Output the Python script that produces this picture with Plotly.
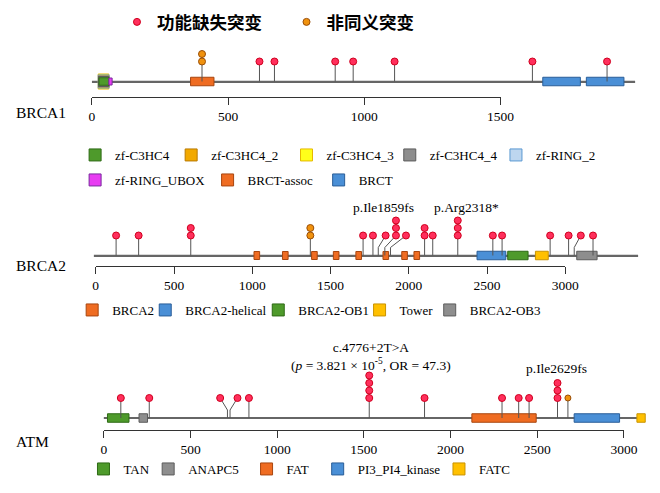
import plotly.graph_objects as go

W, H = 660, 493

# ---------------- data ----------------
MUT_TYPES = ["lof", "mis"]
MUT_TYPE_LABELS = ["功能缺失突变", "非同义突变"]

# BRCA1
BRCA1_backbone = [0, 1994]
BRCA1_ticks = [0, 500, 1000, 1500]
BRCA1_domains = ["zf-C3HC4", "zf-C3HC4_2", "zf-C3HC4_3", "zf-C3HC4_4",
                 "zf-RING_2", "zf-RING_UBOX", "BRCT-assoc", "BRCT"]
BRCA1_domain_starts = [[26], [24], [23], [24], [23], [62], [362], [1655, 1815]]
BRCA1_domain_ends = [[63], [62], [62], [62], [63], [74], [448], [1793, 1953]]
BRCA1_mut_pos = [404, 615, 670, 893, 959, 1111, 1617, 1891]
BRCA1_mut_head = [404, 615, 670, 893, 959, 1111, 1617, 1891]
BRCA1_mut_count = [2, 1, 1, 1, 1, 1, 1, 1]
BRCA1_mut_type = ["mis", "lof", "lof", "lof", "lof", "lof", "lof", "lof"]
BRCA1_labels = []
BRCA1_label_x = []

# BRCA2
BRCA2_backbone = [-12, 3465]
BRCA2_ticks = [0, 500, 1000, 1500, 2000, 2500, 3000]
BRCA2_domains = ["BRCA2", "BRCA2-helical", "BRCA2-OB1", "Tower", "BRCA2-OB3"]
BRCA2_domain_starts = [[1011, 1193, 1379, 1518, 1662, 1835, 1955, 2033], [2436], [2632], [2809], [3073]]
BRCA2_domain_ends = [[1047, 1229, 1415, 1554, 1698, 1871, 1991, 2069], [2620], [2762], [2891], [3203]]
BRCA2_mut_pos = [130, 274, 607, 1371, 1708, 1771, 1805, 1847, 1883, 2101, 2153, 2313,
                 2537, 2596, 2903, 3021, 3057, 3177]
BRCA2_mut_head = [130, 274, 607, 1371, 1708, 1771, 1852, 1918, 1982, 2101, 2153, 2313,
                  2537, 2596, 2903, 3021, 3099, 3177]
BRCA2_mut_count = [1, 1, 2, 2, 1, 1, 1, 3, 1, 2, 1, 3, 1, 1, 1, 1, 1, 1]
BRCA2_mut_type = ["lof", "lof", "lof", "mis", "lof", "lof", "lof", "lof", "lof", "lof",
                  "lof", "lof", "lof", "lof", "lof", "lof", "lof", "lof"]
BRCA2_labels = ["p.Ile1859fs", "p.Arg2318*"]
BRCA2_label_x = [1841, 2370]

# ATM
ATM_backbone = [0, 3080]
ATM_ticks = [0, 500, 1000, 1500, 2000, 2500, 3000]
ATM_domains = ["TAN", "ANAPC5", "FAT", "PI3_PI4_kinase", "FATC"]
ATM_domain_starts = [[21], [203], [2123], [2713], [3075]]
ATM_domain_ends = [[145], [252], [2494], [2975], [3123]]
ATM_mut_pos = [98, 262, 713, 728, 837, 1531, 1850, 2297, 2393, 2453, 2617, 2677]
ATM_mut_head = [98, 262, 671, 771, 837, 1531, 1850, 2297, 2393, 2453, 2617, 2677]
ATM_mut_count = [1, 1, 1, 1, 1, 4, 1, 1, 1, 1, 3, 1]
ATM_mut_type = ["lof", "lof", "lof", "lof", "lof", "lof", "lof", "lof", "lof", "lof", "lof", "mis"]
ATM_labels = ["c.4776+2T>A<br>(<i>p</i> = 3.821 × 10<sup>-5</sup>, OR = 47.3)", "p.Ile2629fs"]
ATM_label_x = [1540, 2614]

# ---------------- style ----------------
SERIF = "Liberation Serif, Times New Roman, serif"
CJK = "Noto Sans CJK SC, sans-serif"
HEAD_FILL = {"lof": "#FF2F5C", "mis": "#F0920E"}
HEAD_LINE = {"lof": "#D0001E", "mis": "#9A4E08"}
STICK = "#555555"
L1, STEP, ELBOW = 20, 7.5, 8

GREEN = ("#4E9A2B", "#2E6A15")
GOLD = ("#F2A900", "#B97A00")
YELLOW = ("#FFFF1A", "#E6B800")
GRAY = ("#8E8E8E", "#5C5C5C")
LBLUE = ("#BDD6EF", "#5A98D2")
MAGENTA = ("#E83CF2", "#7A2A9E")
ORANGE = ("#EF6C22", "#A8460F")
BLUE = ("#4A8FD6", "#2A5E98")
AMBER = ("#FFC000", "#C99300")

DOMAIN_STYLE = {  # fill, line, box height (px)
    "zf-C3HC4": GREEN + (7.5,), "zf-C3HC4_2": GOLD + (11,), "zf-C3HC4_3": YELLOW + (15,),
    "zf-C3HC4_4": GRAY + (10,), "zf-RING_2": LBLUE + (13,), "zf-RING_UBOX": MAGENTA + (7,),
    "BRCT-assoc": ORANGE + (8.5,), "BRCT": BLUE + (8.5,),
    "BRCA2": ORANGE + (8,), "BRCA2-helical": BLUE + (8.5,), "BRCA2-OB1": GREEN + (8.5,),
    "Tower": AMBER + (8.5,), "BRCA2-OB3": GRAY + (8.5,),
    "TAN": GREEN + (8.5,), "ANAPC5": GRAY + (8.5,), "FAT": ORANGE + (8.5,),
    "PI3_PI4_kinase": BLUE + (8.5,), "FATC": AMBER + (8.5,),
}

PANELS = [
    dict(gene="BRCA1", backbone=BRCA1_backbone, ticks=BRCA1_ticks, domains=BRCA1_domains,
         starts=BRCA1_domain_starts, ends=BRCA1_domain_ends, pos=BRCA1_mut_pos,
         head=BRCA1_mut_head, count=BRCA1_mut_count, mtype=BRCA1_mut_type,
         labels=BRCA1_labels, label_x=BRCA1_label_x, label_h=[], mis_size=7,
         x0=91.3, ppa=0.2796, base=81.5, top=28, bottom=100, axis=96.5, name_y=112,
         leg_s=[95, 193.6, 312, 418, 527, 95, 231, 345],
         leg_row=[155, 155, 155, 155, 155, 180, 180, 180]),
    dict(gene="BRCA2", backbone=BRCA2_backbone, ticks=BRCA2_ticks, domains=BRCA2_domains,
         starts=BRCA2_domain_starts, ends=BRCA2_domain_ends, pos=BRCA2_mut_pos,
         head=BRCA2_mut_head, count=BRCA2_mut_count, mtype=BRCA2_mut_type,
         labels=BRCA2_labels, label_x=BRCA2_label_x, label_h=[48.5, 48.5], mis_size=7,
         x0=95.2, ppa=0.16066, base=255.5, top=195, bottom=272, axis=265.5, name_y=265,
         leg_s=[92, 167, 283, 387, 459], leg_row=[310, 310, 310, 310, 310]),
    dict(gene="ATM", backbone=ATM_backbone, ticks=ATM_ticks, domains=ATM_domains,
         starts=ATM_domain_starts, ends=ATM_domain_ends, pos=ATM_mut_pos,
         head=ATM_mut_head, count=ATM_mut_count, mtype=ATM_mut_type,
         labels=ATM_labels, label_x=ATM_label_x, label_h=[61.5, 50], mis_size=6,
         x0=103.5, ppa=0.17794, base=418, top=335, bottom=434, axis=430, name_y=441,
         leg_s=[103.6, 170, 271, 344, 468.5], leg_row=[469, 469, 469, 469, 469]),
]

fig = go.Figure()
layout = dict(width=W, height=H, margin=dict(l=0, r=0, t=0, b=0),
              paper_bgcolor="white", plot_bgcolor="rgba(0,0,0,0)",
              barmode="overlay", showlegend=True, annotations=[])

legend_keys = []


def new_legend(s_px, row_px, font, offset=21):
    key = "legend" if not legend_keys else "legend%d" % (len(legend_keys) + 1)
    legend_keys.append(key)
    layout[key] = dict(x=(s_px - offset) / W, y=1 - row_px / H, xanchor="left", yanchor="middle",
                       orientation="h", bgcolor="rgba(0,0,0,0)", borderwidth=0, font=font,
                       itemclick=False, itemdoubleclick=False)
    return key


# mutation-type legends (top)
top_font = dict(family=CJK, size=17.5, color="black", weight="bold")
top_leg = {"lof": new_legend(138, 22, top_font), "mis": new_legend(312, 22, top_font)}

for i, p in enumerate(PANELS):
    n = i + 1
    xa = "x" if n == 1 else "x%d" % n
    ya = "y" if n == 1 else "y%d" % n
    tx = "x%d" % (n + 3)
    x0, ppa = p["x0"], p["ppa"]

    # axes
    layout["xaxis" if n == 1 else "xaxis%d" % n] = dict(
        domain=[0, 1], range=[-x0 / ppa, (W - x0) / ppa], anchor=ya, visible=False, fixedrange=True)
    layout["yaxis" if n == 1 else "yaxis%d" % n] = dict(
        domain=[1 - p["bottom"] / H, 1 - p["top"] / H],
        range=[p["base"] - p["bottom"], p["base"] - p["top"]], anchor=xa, visible=False, fixedrange=True)
    tmax = p["ticks"][-1]
    layout["xaxis%d" % (n + 3)] = dict(
        domain=[x0 / W, (x0 + tmax * ppa) / W], range=[0, tmax], anchor="free",
        position=1 - p["axis"] / H, showline=True, linecolor="#333", linewidth=1,
        ticks="outside", ticklen=7, tickwidth=1, tickcolor="#333",
        tickvals=p["ticks"], ticktext=[str(t) for t in p["ticks"]],
        tickfont=dict(family=SERIF, size=13.5, color="black"),
        showgrid=False, zeroline=False, fixedrange=True)
    fig.add_trace(go.Scatter(x=[None], y=[None], xaxis=tx, yaxis=ya, showlegend=False,
                             hoverinfo="skip"))

    # backbone
    b0, b1 = p["backbone"]
    fig.add_trace(go.Bar(orientation="h", base=[b0], x=[b1 - b0], y=[0], width=1.3,
                         marker=dict(color="#666666", line=dict(width=0)),
                         xaxis=xa, yaxis=ya, showlegend=False, hoverinfo="skip"))

    # domains (tallest drawn first)
    order = sorted(range(len(p["domains"])), key=lambda k: -DOMAIN_STYLE[p["domains"][k]][2])
    for k in order:
        name = p["domains"][k]
        fill, line, hgt = DOMAIN_STYLE[name]
        st, en = p["starts"][k], p["ends"][k]
        leg = new_legend(p["leg_s"][k], p["leg_row"][k],
                         dict(family=SERIF, size=13, color="black"))
        fig.add_trace(go.Bar(orientation="h", base=st, x=[e - s for s, e in zip(st, en)],
                             y=[0 for _ in st], width=hgt, name=name, legend=leg,
                             marker=dict(color=fill, line=dict(color=line, width=1)),
                             xaxis=xa, yaxis=ya, hoverinfo="skip"))

    # sticks
    sx, sy = [], []
    for ps, hd, c in zip(p["pos"], p["head"], p["count"]):
        top = L1 + (c - 1) * STEP
        if hd == ps:
            sx += [ps, ps, None]
            sy += [0, top, None]
        else:
            sx += [ps, ps, hd, hd, None]
            sy += [0, ELBOW, L1, top, None]
    fig.add_trace(go.Scatter(x=sx, y=sy, mode="lines", line=dict(color=STICK, width=1),
                             xaxis=xa, yaxis=ya, showlegend=False, hoverinfo="skip"))

    # heads
    for t, lab in zip(MUT_TYPES, MUT_TYPE_LABELS):
        hx, hy = [], []
        for hd, c, mt in zip(p["head"], p["count"], p["mtype"]):
            if mt == t:
                for j in range(c):
                    hx.append(hd)
                    hy.append(L1 + j * STEP)
        size = 7 if t == "lof" else p["mis_size"]
        fig.add_trace(go.Scatter(
            x=hx, y=hy, mode="markers", name=lab, legend=top_leg[t], showlegend=(n == 1),
            marker=dict(size=size, color=HEAD_FILL[t], line=dict(color=HEAD_LINE[t], width=1)),
            xaxis=xa, yaxis=ya, hoverinfo="skip"))

    # mutation labels
    for txt, lx, lh in zip(p["labels"], p["label_x"], p["label_h"]):
        layout["annotations"].append(dict(
            x=lx, y=lh, xref=xa, yref=ya, text=txt, showarrow=False,
            xanchor="center", yanchor="middle", align="center",
            font=dict(family=SERIF, size=13.5, color="black")))

    # gene name
    layout["annotations"].append(dict(
        x=11 / W, y=1 - p["name_y"] / H, xref="paper", yref="paper", text=p["gene"],
        showarrow=False, xanchor="left", yanchor="middle",
        font=dict(family=SERIF, size=15.5, color="black")))

fig.update_layout(**layout)
fig.write_html("out.html", config={"displayModeBar": False},
               post_script="document.body.style.margin='0';document.body.style.overflow='hidden';")
